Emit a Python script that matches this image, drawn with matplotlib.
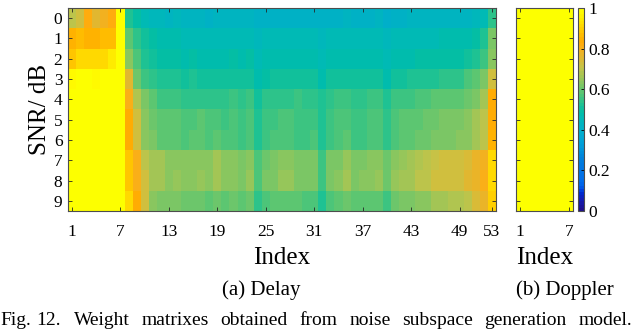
import numpy as np
import matplotlib

matplotlib.use("Agg")
import matplotlib.pyplot as plt  # noqa: E402
from matplotlib.colors import ListedColormap, rgb_to_hsv, hsv_to_rgb  # noqa: E402

plt.rcParams["font.family"] = ["Liberation Serif", "DejaVu Serif"]

# MATLAB parula (64 entries)
PARULA = [
    [0.2081, 0.1663, 0.5292], [0.2116, 0.1898, 0.5777], [0.2123, 0.2138, 0.6270], [0.2081, 0.2386, 0.6771],
    [0.1959, 0.2645, 0.7279], [0.1707, 0.2919, 0.7792], [0.1253, 0.3242, 0.8303], [0.0591, 0.3598, 0.8683],
    [0.0117, 0.3875, 0.8820], [0.0060, 0.4086, 0.8828], [0.0165, 0.4266, 0.8786], [0.0329, 0.4430, 0.8720],
    [0.0498, 0.4586, 0.8641], [0.0629, 0.4737, 0.8554], [0.0723, 0.4887, 0.8467], [0.0779, 0.5040, 0.8384],
    [0.0793, 0.5200, 0.8312], [0.0749, 0.5375, 0.8263], [0.0641, 0.5570, 0.8240], [0.0488, 0.5772, 0.8228],
    [0.0343, 0.5966, 0.8199], [0.0265, 0.6137, 0.8135], [0.0239, 0.6287, 0.8038], [0.0231, 0.6418, 0.7913],
    [0.0228, 0.6535, 0.7768], [0.0267, 0.6642, 0.7607], [0.0384, 0.6743, 0.7436], [0.0590, 0.6838, 0.7254],
    [0.0843, 0.6928, 0.7062], [0.1133, 0.7015, 0.6859], [0.1453, 0.7098, 0.6646], [0.1801, 0.7177, 0.6424],
    [0.2178, 0.7250, 0.6193], [0.2586, 0.7317, 0.5954], [0.3022, 0.7376, 0.5712], [0.3482, 0.7424, 0.5473],
    [0.3953, 0.7459, 0.5244], [0.4420, 0.7481, 0.5033], [0.4871, 0.7491, 0.4840], [0.5300, 0.7491, 0.4661],
    [0.5709, 0.7485, 0.4494], [0.6099, 0.7473, 0.4337], [0.6473, 0.7456, 0.4188], [0.6834, 0.7435, 0.4044],
    [0.7184, 0.7411, 0.3905], [0.7525, 0.7384, 0.3768], [0.7858, 0.7356, 0.3633], [0.8185, 0.7327, 0.3498],
    [0.8507, 0.7299, 0.3360], [0.8824, 0.7274, 0.3217], [0.9139, 0.7258, 0.3063], [0.9450, 0.7261, 0.2886],
    [0.9739, 0.7314, 0.2666], [0.9938, 0.7455, 0.2403], [0.9990, 0.7653, 0.2164], [0.9955, 0.7861, 0.1967],
    [0.9880, 0.8066, 0.1794], [0.9789, 0.8271, 0.1633], [0.9697, 0.8481, 0.1475], [0.9626, 0.8705, 0.1309],
    [0.9589, 0.8949, 0.1132], [0.9598, 0.9218, 0.0948], [0.9661, 0.9514, 0.0755], [0.9763, 0.9831, 0.0538],
]
# the published figure is a bit more saturated than plain parula
hsv = rgb_to_hsv(np.array(PARULA))
hsv[:, 1] = np.clip(hsv[:, 1] * 1.3, 0, 1)
hsv[:, 2] = np.clip(hsv[:, 2] * 1.04, 0, 1)
parula = ListedColormap(hsv_to_rgb(hsv), name="parula")

snr_db = [0, 1, 2, 3, 4, 5, 6, 7, 8, 9]
delay_ticks = [1, 7, 13, 19, 25, 31, 37, 43, 49, 53]
doppler_ticks = [1, 7]
cbar_ticks = [0, 0.2, 0.4, 0.6, 0.8, 1]
cbar_labels = ["0", "0.2", "0.4", "0.6", "0.8", "1"]

# delay weights, one list per SNR row (index 1..53)
delay_snr0 = [0.70, 0.73, 0.82, 0.76, 0.79, 0.82, 1.00,
              0.52, 0.49, 0.46, 0.445, 0.44, 0.435, 0.44, 0.43, 0.425, 0.43, 0.42,
              0.425, 0.425, 0.43, 0.425, 0.425, 0.415, 0.415, 0.42, 0.415, 0.415, 0.42, 0.415,
              0.415, 0.415, 0.42, 0.42, 0.425, 0.42,
              0.42, 0.42, 0.425, 0.405, 0.42, 0.42, 0.425, 0.425, 0.425, 0.425, 0.43, 0.43,
              0.43, 0.435, 0.445, 0.458, 0.54]
delay_snr1 = [0.85, 0.86, 0.85, 0.85, 0.87, 0.87, 1.00,
              0.58, 0.54, 0.507, 0.491, 0.483, 0.476, 0.476, 0.468, 0.468, 0.468, 0.46,
              0.468, 0.46, 0.468, 0.46, 0.468, 0.445, 0.455, 0.46, 0.455, 0.455, 0.46, 0.455,
              0.455, 0.445, 0.455, 0.46, 0.46, 0.455,
              0.455, 0.46, 0.46, 0.44, 0.455, 0.46, 0.46, 0.468, 0.468, 0.468, 0.476, 0.476,
              0.476, 0.483, 0.499, 0.53, 0.62]
delay_snr2 = [0.89, 0.92, 0.92, 0.91, 0.92, 0.95, 1.00,
              0.64, 0.57, 0.53, 0.507, 0.499, 0.491, 0.491, 0.483, 0.491, 0.483, 0.476,
              0.483, 0.483, 0.491, 0.483, 0.491, 0.455, 0.476, 0.483, 0.476, 0.476, 0.483, 0.476,
              0.476, 0.455, 0.476, 0.483, 0.483, 0.476,
              0.476, 0.483, 0.483, 0.455, 0.476, 0.483, 0.483, 0.491, 0.491, 0.491, 0.499, 0.499,
              0.499, 0.514, 0.53, 0.56, 0.64]
delay_snr3 = [0.98, 0.99, 0.99, 0.98, 0.99, 0.99, 1.00,
              0.756, 0.60, 0.555, 0.535, 0.519, 0.527, 0.519, 0.504, 0.519, 0.512, 0.504,
              0.512, 0.504, 0.512, 0.504, 0.512, 0.473, 0.496, 0.504, 0.504, 0.504, 0.512, 0.504,
              0.504, 0.481, 0.504, 0.512, 0.512, 0.504,
              0.504, 0.512, 0.512, 0.481, 0.504, 0.512, 0.519, 0.519, 0.519, 0.527, 0.535, 0.535,
              0.545, 0.565, 0.585, 0.615, 0.73]
delay_snr4 = [1.00, 1.00, 1.00, 1.00, 1.00, 1.00, 1.00,
              0.81, 0.68, 0.61, 0.58, 0.56, 0.56, 0.56, 0.54, 0.54, 0.54, 0.54,
              0.54, 0.54, 0.55, 0.54, 0.55, 0.509, 0.532, 0.54, 0.54, 0.54, 0.55, 0.54,
              0.54, 0.517, 0.54, 0.55, 0.55, 0.54,
              0.54, 0.55, 0.55, 0.524, 0.55, 0.56, 0.56, 0.57, 0.57, 0.58, 0.58, 0.58,
              0.59, 0.60, 0.62, 0.66, 0.84]
delay_snr5 = [1.00, 1.00, 1.00, 1.00, 1.00, 1.00, 1.00,
              0.84, 0.73, 0.64, 0.60, 0.59, 0.58, 0.58, 0.57, 0.57, 0.58, 0.57,
              0.57, 0.56, 0.57, 0.56, 0.57, 0.524, 0.55, 0.56, 0.57, 0.57, 0.56, 0.56,
              0.56, 0.524, 0.56, 0.57, 0.57, 0.56,
              0.56, 0.57, 0.57, 0.54, 0.57, 0.58, 0.58, 0.59, 0.60, 0.60, 0.61, 0.62,
              0.62, 0.64, 0.66, 0.70, 0.84]
delay_snr6 = [1.00, 1.00, 1.00, 1.00, 1.00, 1.00, 1.00,
              0.84, 0.73, 0.64, 0.61, 0.59, 0.58, 0.59, 0.57, 0.58, 0.58, 0.57,
              0.58, 0.57, 0.57, 0.56, 0.57, 0.524, 0.56, 0.57, 0.57, 0.57, 0.56, 0.56,
              0.57, 0.524, 0.56, 0.57, 0.58, 0.56,
              0.56, 0.57, 0.57, 0.54, 0.57, 0.58, 0.59, 0.60, 0.60, 0.61, 0.62, 0.62,
              0.63, 0.64, 0.66, 0.70, 0.85]
delay_snr7 = [1.00, 1.00, 1.00, 1.00, 1.00, 1.00, 1.00,
              0.88, 0.80, 0.70, 0.66, 0.66, 0.64, 0.64, 0.63, 0.64, 0.64, 0.63,
              0.66, 0.63, 0.63, 0.62, 0.64, 0.57, 0.60, 0.62, 0.64, 0.64, 0.62, 0.61,
              0.62, 0.56, 0.61, 0.62, 0.65, 0.62,
              0.62, 0.63, 0.64, 0.60, 0.64, 0.65, 0.66, 0.68, 0.70, 0.71, 0.72, 0.72,
              0.72, 0.74, 0.766, 0.794, 0.907]
delay_snr8 = [1.00, 1.00, 1.00, 1.00, 1.00, 1.00, 1.00,
              0.89, 0.81, 0.72, 0.66, 0.67, 0.64, 0.65, 0.64, 0.64, 0.65, 0.63,
              0.67, 0.64, 0.64, 0.62, 0.65, 0.57, 0.61, 0.62, 0.65, 0.65, 0.62, 0.62,
              0.62, 0.56, 0.61, 0.63, 0.66, 0.62,
              0.63, 0.64, 0.65, 0.60, 0.65, 0.66, 0.67, 0.69, 0.70, 0.72, 0.72, 0.73,
              0.73, 0.75, 0.78, 0.80, 0.92]
delay_snr9 = [1.00, 1.00, 1.00, 1.00, 1.00, 1.00, 1.00,
              0.91, 0.84, 0.72, 0.64, 0.62, 0.61, 0.61, 0.60, 0.60, 0.60, 0.59,
              0.60, 0.59, 0.60, 0.59, 0.60, 0.54, 0.57, 0.58, 0.59, 0.59, 0.58, 0.57,
              0.57, 0.524, 0.57, 0.58, 0.60, 0.58,
              0.58, 0.59, 0.59, 0.56, 0.60, 0.61, 0.62, 0.63, 0.64, 0.66, 0.67, 0.68,
              0.68, 0.70, 0.74, 0.766, 0.893]

delay_w = np.array([delay_snr0, delay_snr1, delay_snr2, delay_snr3, delay_snr4,
                    delay_snr5, delay_snr6, delay_snr7, delay_snr8, delay_snr9])

# doppler weights are all (close to) one
doppler_w = np.array([
    [0.99, 0.99, 1.00, 0.99, 1.00, 0.99, 0.99],
    [0.99, 1.00, 1.00, 1.00, 1.00, 1.00, 0.99],
    [1.00, 1.00, 1.00, 1.00, 1.00, 1.00, 1.00],
    [1.00, 1.00, 1.00, 1.00, 1.00, 1.00, 1.00],
    [1.00, 1.00, 1.00, 1.00, 1.00, 1.00, 1.00],
    [1.00, 1.00, 1.00, 1.00, 1.00, 1.00, 1.00],
    [1.00, 1.00, 1.00, 1.00, 1.00, 1.00, 1.00],
    [1.00, 1.00, 1.00, 1.00, 1.00, 1.00, 1.00],
    [1.00, 1.00, 1.00, 1.00, 1.00, 1.00, 1.00],
    [1.00, 1.00, 1.00, 1.00, 1.00, 1.00, 1.00],
])

fig_label = ["Fig.", "12."]
caption_words = ["Weight", "matrixes", "obtained", "from", "noise",
                 "subspace", "generation", "model."]

W, H = 640, 331


def px_rect(x0, y0, x1, y1):
    return [x0 / W, 1 - y1 / H, (x1 - x0) / W, (y1 - y0) / H]


def style_axes(ax):
    for sp in ax.spines.values():
        sp.set_color("#4d4d4d")
        sp.set_linewidth(0.8)
    ax.tick_params(direction="in", length=3, width=0.6, colors="#262626",
                   labelcolor="black", labelsize=12.5, top=True, right=True, pad=4)


fig = plt.figure(figsize=(6.4, 3.31), dpi=100)

# (a) delay
ax1 = fig.add_axes(px_rect(68, 8, 496, 211))
n_snr, n_delay = delay_w.shape
ax1.imshow(delay_w, cmap=parula, vmin=0, vmax=1, aspect="auto", interpolation="nearest",
           extent=(0.5, n_delay + 0.5, n_snr - 0.5, -0.5))
ax1.set_xticks(delay_ticks)
ax1.set_yticks(snr_db)
style_axes(ax1)
ax1.tick_params(axis="x", pad=9.5)
ax1.set_xlabel("Index", fontsize=18, labelpad=5)
ax1.set_ylabel("SNR/ dB", fontsize=18, labelpad=2)

# (b) doppler
ax2 = fig.add_axes(px_rect(516, 8, 573, 211))
n_dop = doppler_w.shape[1]
im = ax2.imshow(doppler_w, cmap=parula, vmin=0, vmax=1, aspect="auto", interpolation="nearest",
                extent=(0.5, n_dop + 0.5, n_snr - 0.5, -0.5))
ax2.set_xticks(doppler_ticks)
ax2.set_yticks(snr_db)
style_axes(ax2)
ax2.tick_params(axis="x", pad=9.5)
ax2.tick_params(axis="y", labelleft=False)
ax2.set_xlabel("Index", fontsize=18, labelpad=5)

cax = fig.add_axes(px_rect(578, 8, 584, 211))
cb = fig.colorbar(im, cax=cax, ticks=cbar_ticks)
cb.ax.set_yticklabels(cbar_labels)
cb.outline.set_edgecolor("#4d4d4d")
cb.outline.set_linewidth(0.8)
cb.ax.tick_params(direction="in", length=2, width=0.6, labelsize=12.5, pad=3)

fig.text(261 / W, 1 - 290 / H, "(a) Delay", ha="center", va="center", fontsize=15)
fig.text(565 / W, 1 - 290 / H, "(b) Doppler", ha="center", va="center", fontsize=15)

# justified caption line: "Fig. 12." at the left, words spread out to the right margin
renderer = fig.canvas.get_renderer()
base_y = 1 - 325 / H
fig_texts = [fig.text(0, base_y, w, ha="left", va="baseline", fontsize=14) for w in fig_label]
fig_texts[1].set_x((fig_texts[0].get_window_extent(renderer).width + 5) / W)
word_texts = [fig.text(0, base_y, w, ha="left", va="baseline", fontsize=14) for w in caption_words]
widths = [t.get_window_extent(renderer).width for t in word_texts]
x0, x1 = 74, 632
gap = (x1 - x0 - sum(widths)) / (len(widths) - 1)
x = x0
for t, w in zip(word_texts, widths):
    t.set_x(x / W)
    x += w + gap

fig.savefig("out.png", dpi=100)
